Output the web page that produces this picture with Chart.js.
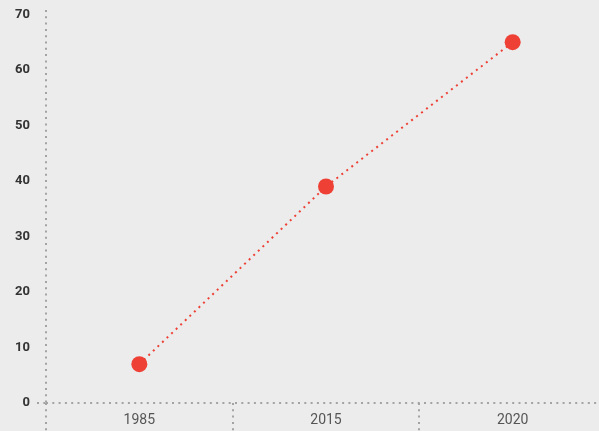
<!DOCTYPE html>
<html>
<head>
<meta charset="utf-8">
<script src="https://cdn.jsdelivr.net/npm/chart.js@4/dist/chart.umd.min.js"></script>
<style>
  html, body { margin: 0; padding: 0; background: #ececec; overflow: hidden; }
  #wrap { width: 614px; height: 431px; position: relative; }
</style>
</head>
<body>
<div id="wrap"><canvas id="c"></canvas></div>
<script>
const categories = ['1985', '2015', '2020'];
const values = [7, 39, 65];
const yTickValues = [0, 10, 20, 30, 40, 50, 60, 70];

const red = '#ee4035';
const axisGray = '#a3a3a3';

new Chart(document.getElementById('c'), {
  type: 'line',
  data: {
    labels: categories,
    datasets: [{
      data: values,
      borderColor: red,
      backgroundColor: red,
      borderWidth: 2,
      borderDash: [2, 4.3],
      tension: 0,
      pointRadius: 8,
      pointHoverRadius: 8,
      pointBorderWidth: 0,
      pointBackgroundColor: red,
      fill: false
    }]
  },
  options: {
    responsive: true,
    maintainAspectRatio: false,
    animation: false,
    events: [],
    layout: { padding: { top: 10, right: 2, left: 0, bottom: 0 } },
    plugins: { legend: { display: false }, tooltip: { enabled: false } },
    scales: {
      x: {
        type: 'category',
        offset: true,
        border: { display: false, dash: [2, 4.3] },
        grid: {
          offset: true,
          drawOnChartArea: true,
          lineWidth: 2,
          color: ctx => ctx.index === 0 ? axisGray : 'transparent',
          tickColor: axisGray,
          tickWidth: 2,
          tickLength: 32,
          tickBorderDash: [2, 4.3]
        },
        ticks: {
          padding: -23,
          color: '#555555',
          font: { family: 'Roboto', size: 14, weight: 'normal' },
          maxRotation: 0
        },
        afterFit: s => { s.height = 28; s.paddingLeft = 0; s.paddingRight = 0; }
      },
      y: {
        min: 0,
        max: 70.8,
        border: { display: false, dash: [2, 4.3] },
        afterBuildTicks: s => { s.ticks = yTickValues.concat([70.8]).map(v => ({ value: v })); },
        grid: {
          lineWidth: 2,
          color: ctx => (ctx.tick && ctx.tick.value === 0) ? axisGray : 'transparent',
          tickColor: ctx => (ctx.tick && ctx.tick.value === 0) ? axisGray : 'transparent',
          tickWidth: 2,
          tickLength: 9,
          tickBorderDash: [2, 4.3]
        },
        ticks: {
          padding: 7,
          color: '#333333',
          font: { family: 'Roboto', size: 13, weight: 'bold' },
          callback: v => yTickValues.includes(v) ? String(v) : ''
        },
        afterFit: s => { s.width = 46; s.paddingTop = 0; s.paddingBottom = 0; }
      }
    }
  }
});
</script>
</body>
</html>
